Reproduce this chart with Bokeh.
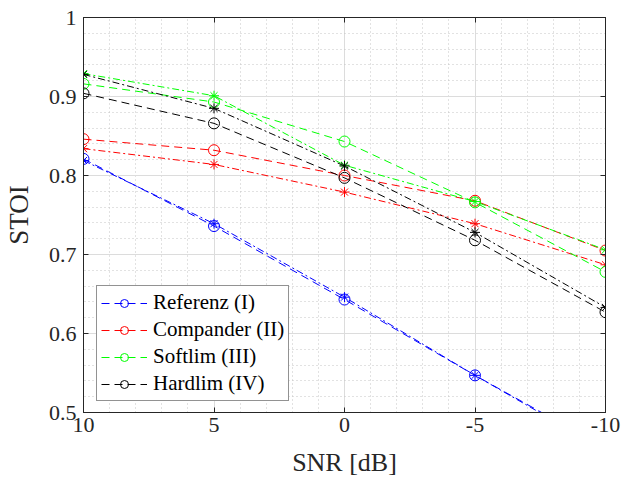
from bokeh.plotting import figure
from bokeh.models import (FixedTicker, LinearAxis, Legend, LegendItem, Range1d)
from bokeh.embed import file_html
from bokeh.resources import INLINE

# ---- data ----
snr = [10, 5, 0, -5, -10]
ref_o = [0.821, 0.736, 0.643, 0.547, 0.455]
ref_s = [0.819, 0.739, 0.646, 0.547, 0.452]
comp_o = [0.846, 0.832, 0.800, 0.768, 0.705]
comp_s = [0.834, 0.814, 0.779, 0.739, 0.687]
soft_o = [0.916, 0.893, 0.843, 0.766, 0.678]
soft_s = [0.929, 0.901, 0.813, 0.767, 0.706]
hard_o = [0.904, 0.866, 0.797, 0.718, 0.627]
hard_s = [0.928, 0.885, 0.812, 0.728, 0.633]

labels = ["Referenz (I)", "Compander (II)", "Softlim (III)", "Hardlim (IV)"]
colors = ["#0000ff", "#ff0000", "#00ff00", "#000000"]
circ_series = [ref_o, comp_o, soft_o, hard_o]
star_series = [ref_s, comp_s, soft_s, hard_s]

x_ticks = [10, 5, 0, -5, -10]
x_tick_labels = ["10", "5", "0", "-5", "-10"]
x_minor = list(range(-10, 11))
y_ticks = [0.5, 0.6, 0.7, 0.8, 0.9, 1.0]
y_tick_labels = ["0.5", "0.6", "0.7", "0.8", "0.9", "1"]
y_minor = [round(0.5 + 0.02 * i, 2) for i in range(26)]

FONT = "Liberation Serif"
AX = "#262626"

p = figure(width=622, height=482, output_backend="svg", toolbar_location=None,
           x_range=Range1d(10, -10), y_range=Range1d(0.5, 1.0),
           min_border_left=83, min_border_right=17, min_border_top=17,
           min_border_bottom=70)
p.outline_line_color = AX
p.outline_line_width = 1
p.background_fill_color = "white"
p.border_fill_color = "white"

# grids
for g, tk, mn in ((p.xgrid, x_ticks, x_minor), (p.ygrid, y_ticks, y_minor)):
    g.ticker = FixedTicker(ticks=tk, minor_ticks=mn)
    g.grid_line_color = "#dcdcdc"
    g.grid_line_width = 1
    g.minor_grid_line_color = "#c4c4c4"
    g.minor_grid_line_dash = "1 3"
    g.minor_grid_line_width = 1

def style_axis(ax, tk, mn):
    ax.ticker = FixedTicker(ticks=tk, minor_ticks=mn)
    ax.axis_line_color = AX
    ax.major_tick_line_color = AX
    ax.major_tick_in = 5
    ax.major_tick_out = 0
    ax.minor_tick_in = 0
    ax.minor_tick_out = 0
    ax.major_label_text_font = FONT
    ax.major_label_text_color = AX
    ax.major_label_text_font_size = "22px"

style_axis(p.xaxis[0], x_ticks, x_minor)
style_axis(p.yaxis[0], y_ticks, y_minor)
p.xaxis[0].major_label_overrides = dict(zip(x_ticks, x_tick_labels))
p.yaxis[0].major_label_overrides = dict(zip(y_ticks, y_tick_labels))
p.xaxis[0].major_label_standoff = 5
p.yaxis[0].major_label_standoff = 7

p.xaxis[0].axis_label = "SNR [dB]"
p.yaxis[0].axis_label = "STOI"
for ax, fs, so in ((p.xaxis[0], "26px", 13), (p.yaxis[0], "27px", 12)):
    ax.axis_label_text_font = FONT
    ax.axis_label_text_font_style = "normal"
    ax.axis_label_text_font_size = fs
    ax.axis_label_text_color = AX
    ax.axis_label_standoff = so

# mirrored box ticks (no labels)
top = LinearAxis()
style_axis(top, x_ticks, x_minor)
top.major_label_overrides = {t: "" for t in x_ticks}
top.major_label_standoff = 0
p.add_layout(top, "above")
right = LinearAxis()
style_axis(right, y_ticks, y_minor)
right.major_label_overrides = {t: "" for t in y_ticks}
right.major_label_standoff = 0
p.add_layout(right, "right")

items = []
for lab, c, yo, ys in zip(labels, colors, circ_series, star_series):
    lo = p.line(snr, yo, line_color=c, line_width=1, line_dash="8 5")
    so_ = p.scatter(snr, yo, marker="circle", size=11, fill_color=None,
                    line_color=c, line_width=1)
    p.line(snr, ys, line_color=c, line_width=1, line_dash="7 3 2 3")
    p.scatter(snr, ys, marker="asterisk", size=10, line_color=c, line_width=1)
    items.append(LegendItem(label=lab, renderers=[lo, so_]))

leg = Legend(items=items, location=(13, 11), margin=0)
leg.label_text_font = FONT
leg.label_text_font_size = "21px"
leg.label_text_color = "#000000"
leg.glyph_width = 46
leg.glyph_height = 20
leg.label_height = 20
leg.spacing = 2
leg.padding = 4
leg.label_standoff = 6
leg.border_line_color = AX
leg.border_line_width = 1
leg.background_fill_color = "white"
leg.background_fill_alpha = 1.0
p.add_layout(leg, "center")

open("out.html", "w").write(file_html(p, INLINE))
